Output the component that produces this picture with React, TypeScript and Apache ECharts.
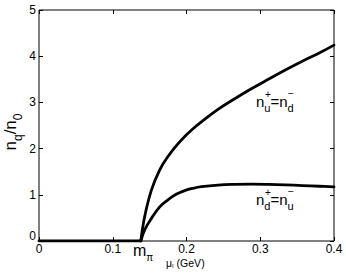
import React, { useEffect, useRef } from "react";
import * as echarts from "echarts";

const mPi = 0.138;
const flatMu = [0, mPi];
const flatN = [0, 0];
const mu = [0.138, 0.1433, 0.1524, 0.1637, 0.1749, 0.186, 0.1976, 0.2088, 0.2202, 0.2427, 0.2654, 0.2885, 0.311, 0.334, 0.357, 0.38, 0.4];
const upper = [0, 0.53, 1.1, 1.54, 1.83, 2.06, 2.26, 2.43, 2.58, 2.85, 3.08, 3.3, 3.5, 3.7, 3.89, 4.07, 4.24];
const lower = [0, 0.24, 0.49, 0.74, 0.89, 1.01, 1.09, 1.14, 1.175, 1.21, 1.225, 1.23, 1.225, 1.215, 1.2, 1.185, 1.17];
const xTicks = [0, 0.1, 0.2, 0.3, 0.4];
const yTicks = [0, 1, 2, 3, 4, 5];

const FONT = "Liberation Sans, Arial, Helvetica, sans-serif";

export default function App() {
  const ref = useRef<HTMLDivElement>(null);
  useEffect(() => {
    if (!ref.current) return;
    const chart = echarts.init(ref.current, null, { renderer: "svg" });
    const axisCommon = {
      axisLine: { show: false, onZero: false },
      axisTick: { show: true, inside: true, length: 4, lineStyle: { color: "#000", width: 1 } },
      splitLine: { show: false },
    };
    const lineSeries = (data: number[][], smooth: boolean) => ({
      type: "line", xAxisIndex: 0, yAxisIndex: 0, showSymbol: false, symbol: "none",
      smooth: smooth ? 0.4 : false,
      lineStyle: { color: "#000", width: 2.8, join: "round", cap: "round" },
      data,
    });
    chart.setOption({
      animation: false,
      backgroundColor: "#fff",
      grid: { left: 39, right: 12, top: 10, bottom: 33, show: true, borderColor: "#000", borderWidth: 1, backgroundColor: "transparent" },
      xAxis: [
        {
          type: "value", min: 0, max: 0.4, interval: 0.1, position: "bottom",
          ...axisCommon,
          axisLabel: {
            show: true, color: "#000", fontFamily: FONT, fontSize: 12, margin: 2,
            formatter: (v: number) => (xTicks.includes(+v.toFixed(2)) ? String(+v.toFixed(2)) : ""),
          },
        },
        {
          type: "value", min: 0, max: 0.4, interval: 0.1, position: "top",
          ...axisCommon, axisLabel: { show: false },
        },
      ],
      yAxis: [
        {
          type: "value", min: 0, max: 5, interval: 1, position: "left",
          ...axisCommon,
          axisLabel: {
            show: true, color: "#000", fontFamily: FONT, fontSize: 12, margin: 3,
            formatter: (v: number) => (v === 0 ? "{z|0}" : yTicks.includes(v) ? String(v) : ""),
            rich: { z: { fontFamily: FONT, fontSize: 12, color: "#000", padding: [0, 0, 10, 0] } },
          },
        },
        {
          type: "value", min: 0, max: 5, interval: 1, position: "right",
          ...axisCommon, axisLabel: { show: false },
        },
      ],
      series: [
        lineSeries(flatMu.map((x, i) => [x, flatN[i]]), false),
        lineSeries(mu.map((x, i) => [x, upper[i]]), true),
        lineSeries(mu.map((x, i) => [x, lower[i]]), true),
      ],
      graphic: [
        {
          type: "text", x: 256, y: 101,
          style: {
            text: "{n|n}{sub|u}{n|=n}{sub|d}",
            fontFamily: FONT, fill: "#000", align: "left", verticalAlign: "middle",
            rich: {
              n: { fontFamily: FONT, fontSize: 15, lineHeight: 24, verticalAlign: "middle" },
              sub: { fontFamily: FONT, fontSize: 11, lineHeight: 11, verticalAlign: "bottom" },
            },
          },
        },
        {
          type: "text", x: 265, y: 94,
          style: { text: "+", fontFamily: FONT, fontSize: 10, fill: "#000", align: "left", verticalAlign: "middle" },
        },
        {
          type: "text", x: 288, y: 93,
          style: { text: "\u2212", fontFamily: FONT, fontSize: 10, fill: "#000", align: "left", verticalAlign: "middle" },
        },
        {
          type: "text", x: 256, y: 199,
          style: {
            text: "{n|n}{sub|d}{n|=n}{sub|u}",
            fontFamily: FONT, fill: "#000", align: "left", verticalAlign: "middle",
            rich: {
              n: { fontFamily: FONT, fontSize: 15, lineHeight: 24, verticalAlign: "middle" },
              sub: { fontFamily: FONT, fontSize: 11, lineHeight: 11, verticalAlign: "bottom" },
            },
          },
        },
        {
          type: "text", x: 265, y: 192,
          style: { text: "+", fontFamily: FONT, fontSize: 10, fill: "#000", align: "left", verticalAlign: "middle" },
        },
        {
          type: "text", x: 288, y: 191,
          style: { text: "\u2212", fontFamily: FONT, fontSize: 10, fill: "#000", align: "left", verticalAlign: "middle" },
        },
        {
          type: "text", x: 133, y: 252,
          style: {
            text: "{m|m}{s|\u03c0}",
            fontFamily: FONT, fill: "#000", align: "left", verticalAlign: "middle",
            rich: {
              m: { fontFamily: FONT, fontSize: 16, lineHeight: 20, verticalAlign: "top" },
              s: { fontFamily: FONT, fontSize: 10, lineHeight: 10, verticalAlign: "bottom" },
            },
          },
        },
        {
          type: "text", x: 166, y: 263,
          style: {
            text: "{m|\u03bc}{s|I}{m| (GeV)}",
            fontFamily: FONT, fill: "#000", align: "left", verticalAlign: "middle",
            rich: {
              m: { fontFamily: FONT, fontSize: 10.5, lineHeight: 12, verticalAlign: "top" },
              s: { fontFamily: FONT, fontSize: 6, lineHeight: 6, verticalAlign: "bottom" },
            },
          },
        },
        {
          type: "text", x: 13, y: 132, rotation: Math.PI / 2,
          style: {
            text: "{n|n}{s|q}{n|/n}{s|0}",
            fontFamily: FONT, fill: "#000", align: "center", verticalAlign: "middle",
            rich: {
              n: { fontFamily: FONT, fontSize: 17, lineHeight: 22, verticalAlign: "top" },
              s: { fontFamily: FONT, fontSize: 12, lineHeight: 12, verticalAlign: "bottom" },
            },
          },
        },
      ],
    });
    return () => chart.dispose();
  }, []);
  return (
    <div
      ref={ref}
      style={{ position: "fixed", left: 0, top: 0, width: 346, height: 274, background: "#fff" }}
    />
  );
}
